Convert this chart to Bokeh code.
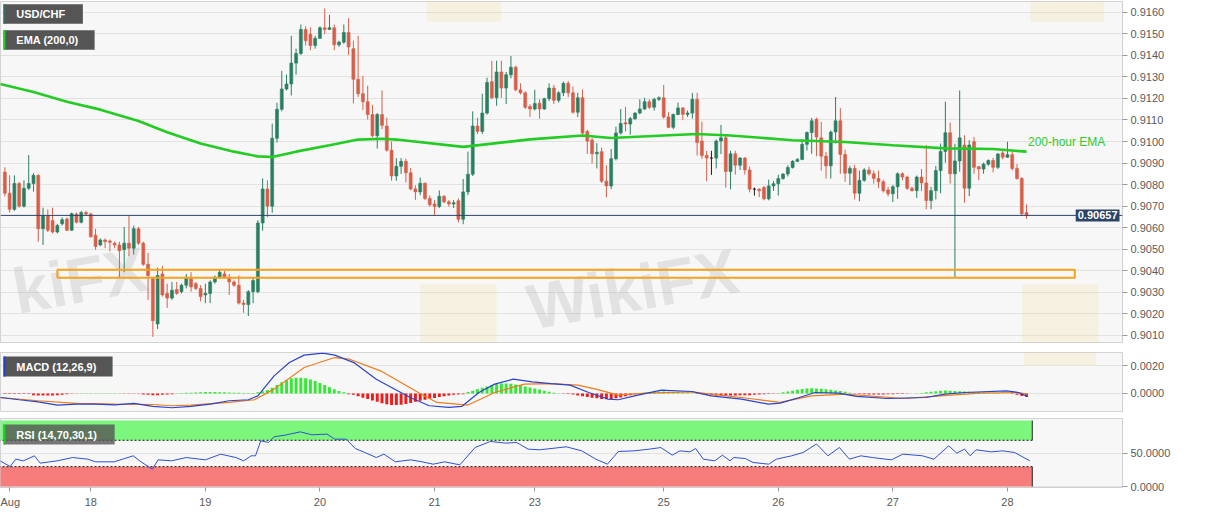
from bokeh.plotting import figure
from bokeh.layouts import column
from bokeh.models import (Range1d, FixedTicker, NumeralTickFormatter, Span, Label,
                          BoxAnnotation, ColumnDataSource)
from bokeh.embed import file_html
from bokeh.resources import INLINE

# ---------------- data (hourly USD/CHF candles) ----------------
opens = [0.90858, 0.9076, 0.90685, 0.90805, 0.9070, 0.90783, 0.90805, 0.90843, 0.90595, 0.90655,
         0.90633, 0.9058, 0.90618, 0.9064, 0.90588, 0.90663, 0.90625, 0.9067, 0.90663, 0.90565,
         0.9052, 0.90543, 0.90538, 0.90528, 0.9052, 0.90498, 0.90528, 0.90505, 0.90595, 0.90528,
         0.9043, 0.90363, 0.90153, 0.90385, 0.90295, 0.90273, 0.90313, 0.90303, 0.90333, 0.9037,
         0.9034, 0.90318, 0.90288, 0.90295, 0.90348, 0.9037, 0.90385, 0.9037, 0.90348, 0.90333,
         0.9025, 0.90243, 0.90303, 0.90303, 0.90622, 0.9078, 0.907, 0.91015, 0.9115, 0.91244,
         0.91267, 0.91364, 0.91409, 0.9152, 0.91498, 0.91446, 0.91479, 0.91528, 0.9152, 0.91528,
         0.91449, 0.91461, 0.91506, 0.91431, 0.91289, 0.91222, 0.91185, 0.91125, 0.91027, 0.91125,
         0.91072, 0.9096, 0.9084, 0.90885, 0.90908, 0.90855, 0.9078, 0.90766, 0.90806, 0.90736,
         0.9071, 0.90698, 0.90746, 0.9072, 0.9071, 0.90725, 0.90639, 0.90766, 0.90848, 0.91072,
         0.91047, 0.91132, 0.91278, 0.91203, 0.91323, 0.91248, 0.9131, 0.91345, 0.9124, 0.91226,
         0.91163, 0.91151, 0.91178, 0.91151, 0.91199, 0.91248, 0.91191, 0.91226, 0.9127, 0.91226,
         0.91136, 0.91203, 0.91047, 0.91007, 0.90943, 0.90953, 0.90816, 0.90794, 0.9092, 0.9104,
         0.91087, 0.91081, 0.91106, 0.91132, 0.91151, 0.91185, 0.91159, 0.91196, 0.91203, 0.91114,
         0.91066, 0.91126, 0.91156, 0.91126, 0.91132, 0.91196, 0.91002, 0.90935, 0.90923, 0.90923,
         0.91002, 0.91017, 0.90861, 0.90943, 0.9089, 0.90923, 0.90868, 0.90779, 0.90779, 0.90786,
         0.90734, 0.90794, 0.90804, 0.90828, 0.90849, 0.90879, 0.90908, 0.90917, 0.90987, 0.91042,
         0.91103, 0.91017, 0.90932, 0.90887, 0.91044, 0.91096, 0.9094, 0.90853, 0.90875, 0.9076,
         0.9082, 0.90868, 0.9085, 0.90828, 0.90813, 0.90775, 0.90757, 0.9079, 0.9085, 0.90835,
         0.90783, 0.90772, 0.90835, 0.90808, 0.90726, 0.90772, 0.90865, 0.90954, 0.91041, 0.9085,
         0.9091, 0.90984, 0.90783, 0.90999, 0.90883, 0.90872, 0.90895, 0.90912, 0.9088, 0.90947,
         0.90927, 0.90939, 0.90875, 0.90828, 0.9067]
highs = [0.9088, 0.90843, 0.90843, 0.90813, 0.9082, 0.90937, 0.90853, 0.90848, 0.90693, 0.90685,
         0.90693, 0.90618, 0.90648, 0.90648, 0.9067, 0.9067, 0.90678, 0.90678, 0.9067, 0.90595,
         0.9055, 0.9055, 0.90545, 0.90535, 0.90535, 0.90603, 0.90655, 0.9061, 0.90603, 0.90535,
         0.90483, 0.9037, 0.90415, 0.90423, 0.9034, 0.90348, 0.90348, 0.9034, 0.90385, 0.90393,
         0.90348, 0.90333, 0.9034, 0.90355, 0.90378, 0.90408, 0.904, 0.90385, 0.90355, 0.90378,
         0.90265, 0.9031, 0.9037, 0.90635, 0.90829, 0.9082, 0.91083, 0.9118, 0.91328, 0.91311,
         0.91491, 0.91431, 0.91543, 0.91535, 0.9153, 0.91491, 0.91535, 0.91618, 0.91588, 0.91543,
         0.91468, 0.91543, 0.91573, 0.91468, 0.91491, 0.91304, 0.91259, 0.9117, 0.91132, 0.91237,
         0.9111, 0.91, 0.90923, 0.90923, 0.9092, 0.90878, 0.90796, 0.90833, 0.9081, 0.9075,
         0.90728, 0.90773, 0.9075, 0.90728, 0.90728, 0.90736, 0.90826, 0.90953, 0.9114, 0.9111,
         0.91222, 0.91296, 0.91375, 0.91375, 0.91375, 0.91323, 0.91397, 0.91352, 0.9127, 0.91233,
         0.91173, 0.9124, 0.91196, 0.91203, 0.9127, 0.91263, 0.91233, 0.91278, 0.91281, 0.91255,
         0.91226, 0.91241, 0.91054, 0.91017, 0.90992, 0.90972, 0.9089, 0.90965, 0.91069, 0.91151,
         0.91161, 0.91114, 0.91136, 0.91196, 0.91203, 0.91196, 0.91203, 0.9121, 0.91263, 0.91136,
         0.91129, 0.91181, 0.91159, 0.91144, 0.91226, 0.91226, 0.91092, 0.90957, 0.90957, 0.9101,
         0.91077, 0.91032, 0.90957, 0.90957, 0.90928, 0.90928, 0.90883, 0.90786, 0.90783, 0.90794,
         0.90823, 0.90816, 0.90846, 0.90853, 0.9089, 0.90913, 0.90923, 0.9101, 0.91047, 0.9111,
         0.91111, 0.91091, 0.90951, 0.91051, 0.91207, 0.91155, 0.90962, 0.90887, 0.90892, 0.90865,
         0.90877, 0.90883, 0.90865, 0.90865, 0.90823, 0.9079, 0.90798, 0.90857, 0.90857, 0.90842,
         0.9079, 0.90842, 0.90872, 0.90984, 0.9079, 0.90887, 0.90991, 0.91185, 0.91088, 0.9099,
         0.91237, 0.91029, 0.91006, 0.91021, 0.90887, 0.90902, 0.90917, 0.90924, 0.90947, 0.90957,
         0.90999, 0.90954, 0.90895, 0.90835, 0.90708]
lows = [0.90745, 0.9067, 0.90678, 0.90693, 0.90693, 0.90775, 0.90768, 0.90535, 0.9052, 0.9058,
        0.90573, 0.90573, 0.9061, 0.90585, 0.90585, 0.9062, 0.9062, 0.90655, 0.90553, 0.90498,
        0.90513, 0.90505, 0.9049, 0.90505, 0.9037, 0.90393, 0.90468, 0.90475, 0.9052, 0.90423,
        0.90265, 0.90093, 0.9013, 0.9028, 0.90228, 0.90265, 0.90288, 0.90295, 0.90318, 0.90303,
        0.9031, 0.90258, 0.9025, 0.9025, 0.9034, 0.90363, 0.90363, 0.90288, 0.90325, 0.90243,
        0.90205, 0.9019, 0.9025, 0.90295, 0.90586, 0.90648, 0.90669, 0.90995, 0.9114, 0.91237,
        0.91214, 0.91311, 0.91401, 0.91446, 0.91424, 0.91431, 0.91476, 0.91498, 0.91518, 0.91424,
        0.91439, 0.91454, 0.91401, 0.91177, 0.91207, 0.91147, 0.91102, 0.9102, 0.90967, 0.91057,
        0.90953, 0.90818, 0.90818, 0.9085, 0.9081, 0.90773, 0.90729, 0.90751, 0.90728, 0.90698,
        0.90657, 0.90691, 0.90713, 0.90698, 0.90691, 0.90624, 0.90616, 0.90751, 0.9084, 0.91035,
        0.91035, 0.91125, 0.91196, 0.91166, 0.91203, 0.91174, 0.91293, 0.91233, 0.91218, 0.91151,
        0.91114, 0.91144, 0.91106, 0.91147, 0.91188, 0.91174, 0.91181, 0.91211, 0.91206, 0.91129,
        0.91114, 0.91032, 0.90943, 0.90898, 0.90875, 0.90808, 0.90741, 0.90779, 0.90912, 0.91032,
        0.91047, 0.91032, 0.91099, 0.91126, 0.91147, 0.91151, 0.91144, 0.91188, 0.91106, 0.91062,
        0.91057, 0.91122, 0.91099, 0.91114, 0.91107, 0.90935, 0.9092, 0.90816, 0.90845, 0.90875,
        0.90942, 0.90786, 0.90778, 0.90846, 0.90868, 0.90846, 0.90764, 0.90749, 0.90742, 0.90727,
        0.90727, 0.90771, 0.90749, 0.90823, 0.90838, 0.90875, 0.90905, 0.90913, 0.90958, 0.90943,
        0.90932, 0.90865, 0.90828, 0.90828, 0.90991, 0.9085, 0.90813, 0.90798, 0.90731, 0.90723,
        0.90813, 0.90842, 0.90805, 0.90783, 0.90763, 0.90745, 0.90719, 0.90734, 0.9082, 0.90775,
        0.90768, 0.90738, 0.9077, 0.90686, 0.90686, 0.90731, 0.9076, 0.90902, 0.90805, 0.90366,
        0.9086, 0.90716, 0.90746, 0.9085, 0.9082, 0.9085, 0.90887, 0.90857, 0.90872, 0.90917,
        0.90924, 0.90865, 0.90823, 0.90656, 0.90641]
closes = [0.9076, 0.90685, 0.90805, 0.9070, 0.90783, 0.90805, 0.90843, 0.90595, 0.90655, 0.90588,
          0.9058, 0.9061, 0.90637, 0.90588, 0.90665, 0.90625, 0.9067, 0.90663, 0.90558, 0.90513,
          0.90543, 0.90535, 0.90532, 0.9052, 0.90493, 0.90528, 0.90505, 0.90595, 0.90528, 0.9043,
          0.90378, 0.90168, 0.90378, 0.90288, 0.90273, 0.9031, 0.90295, 0.90333, 0.9037, 0.90325,
          0.90318, 0.9028, 0.90295, 0.90348, 0.9037, 0.90393, 0.9037, 0.90348, 0.90333, 0.9025,
          0.90243, 0.90303, 0.90355, 0.90622, 0.9078, 0.907, 0.91015, 0.9115, 0.91244, 0.91267,
          0.91364, 0.91409, 0.9152, 0.91468, 0.91446, 0.91479, 0.91528, 0.9152, 0.91528, 0.91449,
          0.91461, 0.91506, 0.91439, 0.91289, 0.91222, 0.91185, 0.91125, 0.91027, 0.91125, 0.91075,
          0.9096, 0.9084, 0.90885, 0.90908, 0.90855, 0.9078, 0.90766, 0.90806, 0.90736, 0.90706,
          0.90698, 0.90746, 0.9072, 0.9071, 0.90716, 0.90639, 0.90766, 0.90848, 0.91072, 0.91047,
          0.91132, 0.91274, 0.91203, 0.91323, 0.91248, 0.9131, 0.91345, 0.9124, 0.91226, 0.91159,
          0.91151, 0.91176, 0.91151, 0.91199, 0.91248, 0.91191, 0.91226, 0.9127, 0.91226, 0.91136,
          0.91203, 0.91039, 0.91002, 0.90943, 0.9095, 0.90816, 0.90794, 0.9092, 0.9104, 0.91084,
          0.91081, 0.91106, 0.91132, 0.91151, 0.91185, 0.91159, 0.91196, 0.91203, 0.91114, 0.91066,
          0.91126, 0.91156, 0.91126, 0.91132, 0.91196, 0.90995, 0.90935, 0.90923, 0.90923, 0.91002,
          0.91017, 0.90861, 0.90943, 0.9089, 0.90923, 0.90868, 0.90779, 0.90779, 0.90771, 0.90734,
          0.90794, 0.90804, 0.90828, 0.90849, 0.90879, 0.90908, 0.90917, 0.90987, 0.91042, 0.91096,
          0.91021, 0.90932, 0.90887, 0.91044, 0.91096, 0.9094, 0.90853, 0.90875, 0.9076, 0.9082,
          0.90868, 0.9085, 0.90828, 0.90813, 0.90771, 0.90757, 0.9079, 0.9085, 0.90835, 0.90783,
          0.90772, 0.90835, 0.90808, 0.90726, 0.90772, 0.90865, 0.90954, 0.91041, 0.9085, 0.9091,
          0.91017, 0.90783, 0.90984, 0.9088, 0.90872, 0.90895, 0.90912, 0.9088, 0.90942, 0.90927,
          0.90939, 0.90875, 0.90828, 0.90664, 0.90657]

# 200-hour EMA (candle index, value)
ema_idx = [-1, 6, 13, 20, 28, 34, 41, 48, 53, 56, 61, 68, 74, 79, 82, 96, 110, 121, 127,
           138, 145, 152, 165, 176, 186, 197, 207, 214]
ema_val = [0.91267, 0.9123, 0.91185, 0.91148, 0.91095, 0.91043, 0.90991, 0.90953, 0.90931,
           0.90928, 0.90953, 0.90983, 0.91009, 0.91013, 0.91009, 0.90975, 0.9101, 0.91028,
           0.91016, 0.91028, 0.91035, 0.91028, 0.91006, 0.90998, 0.90983, 0.90968, 0.90965, 0.90953]

# support zone
zone_low, zone_high = 0.90368, 0.90405
zone_start, zone_end = 11.0, 224.1

# MACD (12,26,9)
macd_idx = [-1, 3, 7, 11, 15, 19, 23, 27, 31, 35, 39, 43, 47, 51, 53, 56.4, 59.6, 62.7, 66.6,
            69.1, 73.1, 77.8, 81, 84.9, 88.9, 93, 95.7, 99.3, 102.6, 106.5, 110.5, 114.4, 118.4,
            122.3, 126.3, 128.5, 131.9, 137.5, 143.9, 147.9, 154.3, 159.9, 162.4, 166.4, 169.7,
            174.5, 178.4, 184.9, 192.9, 196.9, 201.1, 209.8, 212.3, 214.2]
macd_val = [-0.00029, -0.00045, -0.0006, -0.00083, -0.00076, -0.00076, -0.00081, -0.00071,
            -0.00093, -0.00102, -0.00093, -0.00076, -0.00052, -0.00045, -0.00017, 0.00126,
            0.00221, 0.00274, 0.00288, 0.00274, 0.00221, 0.00102, 0.00043, -0.00029, -0.00088,
            -0.001, -0.00093, 0.00007, 0.00067, 0.00102, 0.00083, 0.00071, 0.0006, 0.00007,
            -0.0004, -0.00045, -0.00017, 0.00024, 0.00014, -0.00017, -0.0004, -0.00076, -0.00069,
            -0.00029, 0.00007, 0.00002, -0.00021, -0.00036, -0.00029, -0.00005, 0.00007, 0.00019,
            0.00007, -0.00021]
signal_idx = [-1, 7, 15, 23, 31, 35, 39, 47, 52.3, 56.4, 62.7, 69.1, 72.2, 78.7, 86.6, 90.5, 97,
              102.6, 108.8, 114.4, 120, 123.8, 128.5, 134.2, 143.9, 147.9, 156, 162.4, 168.9,
              176.1, 188.2, 196, 204.2, 212.3, 214.2]
signal_val = [-0.00029, -0.00052, -0.00071, -0.00076, -0.00079, -0.00088, -0.00083, -0.00064,
              -0.00045, 0.00031, 0.00186, 0.00257, 0.00245, 0.00162, 0.00007, -0.00064, -0.00083,
              0.00007, 0.00067, 0.00071, 0.0006, 0.00031, -0.00012, 0.00002, 0.00012, -0.00005,
              -0.00036, -0.00064, -0.00017, -0.00005, -0.00036, -0.00017, 0.00002, 0.00007, -0.00005]
hist = ([-0.00004] * 4 + [-0.00003] * 2 +
        [-0.00012, -0.00014, -0.00015, -0.00015, -0.00014, -0.00012, -0.0001] +
        [-0.00005, -0.00002, 0.00002] + [0.00002] * 9 + [-0.00002] * 4 +
        [-0.00008, -0.0001, -0.00012, -0.00012, -0.0001, -0.00008, -0.00005] +
        [0.00002, 0.00003, 0.00005, 0.00006, 0.00007, 0.00008, 0.0001, 0.0001, 0.0001, 0.00009,
         0.00008, 0.00007, 0.00006, 0.00005, 0.00004, 0.00003, 0.00003] +
        [0.00008, 0.00015, 0.00025, 0.0004, 0.0006, 0.0008, 0.00095, 0.00108, 0.00112, 0.00112,
         0.00108, 0.001, 0.0009, 0.00075, 0.0006, 0.00045, 0.0003, 0.00018, 0.00008] +
        [-0.00005, -0.0001, -0.0002, -0.0003, -0.0004, -0.0005, -0.0006, -0.0007, -0.00078,
         -0.00082, -0.00083, -0.0008, -0.00075, -0.00068, -0.0006, -0.00052, -0.00045, -0.00038,
         -0.00032, -0.00025, -0.0002, -0.00015, -0.0001, -0.00008, -0.00005] +
        [0.0001, 0.0002, 0.0003, 0.0004, 0.0005, 0.0006, 0.00068, 0.00072, 0.00072, 0.0007,
         0.00065, 0.00058, 0.0005, 0.00042, 0.00035, 0.00028, 0.0002, 0.00012, 0.00006] +
        [0.00002, -0.00002, -0.00004] +
        [-0.00008, -0.00015, -0.0002, -0.00025, -0.0003, -0.00035] +
        [-0.0004, -0.00042, -0.0004, -0.00035, -0.00028, -0.0002, -0.00012, -0.00005] +
        [0.00003, 0.00006, 0.0001, 0.00012, 0.00014, 0.00014, 0.00012, 0.0001, 0.00008, 0.00006,
         0.00004, 0.00002] +
        [-0.00003, -0.00006, -0.0001, -0.00013, -0.00015, -0.00015, -0.00016, -0.00015, -0.00014,
         -0.00013, -0.00012, -0.00012, -0.0001, -0.00008, -0.00006, -0.00004, -0.00002] +
        [0.00003, 0.00008, 0.00014, 0.0002, 0.00027, 0.00032, 0.00035, 0.00037, 0.00036, 0.00033,
         0.0003, 0.00027, 0.00022, 0.00017, 0.00012, 0.00006] +
        [-0.00002, -0.00004, -0.00006, -0.00008, -0.00008, -0.00008, -0.00007, -0.00006, -0.00005,
         -0.00004, -0.00003, -0.00002, -0.00001, 0.00001] +
        [0.00004, 0.00008, 0.00012, 0.00016, 0.0002, 0.00022, 0.0002, 0.00018, 0.00016, 0.00014,
         0.00012, 0.0001, 0.00008, 0.00006, 0.00004, 0.00003, 0.00003, 0.00002, 0.00001] +
        [-0.00004, -0.0001, -0.00018, -0.00025])

# RSI (14,70,30,1)
rsi_idx = [-1, 1.1, 2.3, 3.9, 6.2, 7.4, 11, 14.2, 17.4, 19, 22.9, 26.9, 28.5, 30.9, 32.1, 34.9,
           38, 42, 45.2, 48.4, 50, 51.6, 52.5, 53.6, 55.2, 56.4, 58.7, 61.9, 64.3, 67.5, 69.1,
           71.5, 73.4, 75.4, 77.8, 79.4, 81.8, 85, 87.4, 89.7, 92.1, 95.3, 98.5, 101.7, 104.9,
           107.2, 109.6, 112, 117.6, 120.8, 123.8, 126.2, 128.5, 131.8, 135, 137.4, 139.8, 141.4,
           143.5, 144.7, 146.3, 148.7, 150.3, 151.9, 152.7, 155.1, 156.7, 160, 161.6, 164.8,
           167.2, 170, 172.4, 174.8, 176.9, 179.3, 181.7, 185.7, 188.1, 192.2, 194.6, 197.7,
           199.4, 201, 202.2, 203.4, 206.6, 209, 211.5, 214.7]
rsi_val = [38.9, 30.3, 41.4, 38.9, 46.5, 35.4, 38.9, 43.9, 41.4, 37.4, 37.4, 46.5, 37.4, 26.3,
           40.4, 38.9, 43.9, 40.4, 49, 43.9, 38.9, 46.5, 46.5, 69.2, 66.7, 75.3, 77.8, 82.8, 78.3,
           79.3, 71.7, 71.7, 57.6, 51.5, 43.9, 49, 37.4, 40.4, 37.4, 33.8, 37.4, 32.8, 59.1, 68.2,
           65.7, 66.7, 56.6, 55.6, 60.1, 54.1, 41.4, 33.8, 53, 54, 56.6, 59, 47.5, 54, 52.5, 57.6,
           41.4, 38.9, 47.5, 38.9, 43.9, 42.4, 36.4, 33.8, 41.4, 46.5, 51.5, 64.4, 46.5, 59.1,
           41.4, 46.5, 43.9, 40.4, 49, 46.5, 41.4, 61.6, 50.5, 56.6, 46.5, 55.6, 52.5, 54, 51.5, 38.9]
rsi_upper, rsi_lower = 70, 30

day_ticks = [1, 18, 42, 66, 90, 111, 138, 162, 186, 210]
day_labels = ["Aug", "18", "19", "20", "21", "23", "25", "26", "27", "28"]

assert len(opens) == len(highs) == len(lows) == len(closes) == len(hist)

# ---------------- styling helpers ----------------
FONT = "Liberation Sans"
W = 1191
RB = 69
GREEN_C = "#2a7f62"
RED_C = "#d65f4a"
n = len(closes)
idx = list(range(n))
xr = Range1d(-0.91, 234.1)


def make_fig(height, yr, top, bottom, xaxis):
    p = figure(width=W, height=height, x_range=xr, y_range=yr, y_axis_location="right",
               x_axis_location="below" if xaxis else None, toolbar_location=None,
               output_backend="svg", min_border_left=0, min_border_right=RB,
               min_border_top=top, min_border_bottom=bottom)
    p.background_fill_color = "#f7f7f7"
    p.border_fill_color = "#ffffff"
    p.outline_line_color = "#d3d3d3"
    p.xgrid.visible = False
    p.ygrid.grid_line_color = "#e2e2e2"
    ax = p.yaxis[0]
    ax.axis_line_color = "#cfcfcf"
    ax.major_tick_line_color = "#9a9a9a"
    ax.major_tick_out = 5
    ax.major_tick_in = 0
    ax.minor_tick_line_color = None
    ax.major_label_text_font = FONT
    ax.major_label_text_font_size = "11px"
    ax.major_label_text_color = "#5a5a5a"
    ax.major_label_standoff = 3
    ax.formatter = NumeralTickFormatter(format="0.0000")
    return p


def tag(p, x0, x1, y0, y1, text, accent, tx, alpha=1.0):
    p.add_layout(BoxAnnotation(left=x0, right=x1, bottom=y0, top=y1, fill_color="#555555",
                               fill_alpha=alpha, line_color=None))
    p.add_layout(BoxAnnotation(left=x0, right=x0 + 0.42, bottom=y0, top=y1, fill_color=accent,
                               fill_alpha=1, line_color=None))
    p.add_layout(Label(x=tx, y=(y0 + y1) / 2, text=text, text_font=FONT, text_font_size="11px",
                       text_font_style="bold", text_color="white", text_baseline="middle",
                       text_align="left"))


# ---------------- main price panel ----------------
p1 = make_fig(352, Range1d(0.90067, 0.91650), 1, 10, False)
p1.yaxis[0].ticker = FixedTicker(ticks=[0.901 + 0.001 * k for k in range(16)])

# watermark (the part visible at the left edge, and the full one in the middle)
for wx, wy, wtxt, walign in [(1.8, 0.90300, "kiFX", "left"), (131.5, 0.90315, "WikiFX", "center")]:
    p1.add_layout(Label(x=wx, y=wy, text=wtxt, text_font=FONT, text_font_size="64px",
                        text_font_style="bold", text_color="#9a9a9a", text_alpha=0.22,
                        text_align=walign, text_baseline="middle", angle=0.18, level="underlay"))
for l0, r0, b0, t0 in [(87.0, 103.0, 0.90067, 0.90337), (213.1, 229.1, 0.90067, 0.90337),
                       (88.4, 104.0, 0.91556, 0.9170), (214.8, 230.2, 0.91556, 0.9170)]:
    p1.add_layout(BoxAnnotation(left=l0, right=r0, bottom=b0, top=t0, fill_color="#f3dc8c",
                                fill_alpha=0.22, line_color=None, level="underlay"))

colors = [GREEN_C if c > o else (RED_C if c < o else "#1a1a1a") for o, c in zip(opens, closes)]
src = ColumnDataSource(dict(x=idx, h=highs, l=lows,
                            top=[max(o, c) for o, c in zip(opens, closes)],
                            bottom=[min(o, c) for o, c in zip(opens, closes)],
                            color=colors))
p1.segment(x0="x", y0="h", x1="x", y1="l", line_color="color", line_width=1, source=src)
p1.vbar(x="x", width=0.62, top="top", bottom="bottom", fill_color="color", line_color="color",
        line_width=0.6, source=src)

p1.line(ema_idx, ema_val, line_color="#22cc22", line_width=2.6)
p1.quad(left=[zone_start], right=[zone_end], bottom=[zone_low], top=[zone_high],
        fill_alpha=0, line_color="#f5a21d", line_width=2)
p1.add_layout(Span(location=closes[-1], dimension="width", line_color="#2b4468", line_width=1))
p1.add_layout(Label(x=214.3, y=0.90996, text="200-hour EMA", text_font=FONT,
                    text_font_size="12px", text_color="#2ecc2e", text_baseline="middle",
                    text_align="left"))
# last-price tag (kept inside the frame, at its right edge)
p1.add_layout(Label(x=234.1, y=closes[-1], x_offset=-3, text="%.5f" % closes[-1], text_font=FONT,
                    text_font_size="11px", text_font_style="bold", text_color="white",
                    text_baseline="middle", text_align="right", background_fill_color="#2b4468",
                    padding=2))

tag(p1, -0.29, 16.34, 0.91547, 0.91637, "USD/CHF", "#3b6b68", 2.4)
tag(p1, -0.29, 18.8, 0.91426, 0.91516, "EMA (200,0)", "#22cc22", 2.4)

# ---------------- MACD panel ----------------
p2 = make_fig(66, Range1d(-0.00129, 0.00293), 0, 7, False)
p2.yaxis[0].ticker = FixedTicker(ticks=[0.0, 0.002])
p2.add_layout(BoxAnnotation(left=213.5, right=228.5, bottom=0.0020, top=0.0032,
                            fill_color="#f3dc8c", fill_alpha=0.22, line_color=None,
                            level="underlay"))
hcol = ["#36e836" if v >= 0 else "#ee1c1c" for v in hist]
p2.vbar(x=idx, top=hist, bottom=0, width=0.62, fill_color=hcol, line_color=None)
p2.line(signal_idx, signal_val, line_color="#f07a1e", line_width=1.2)
p2.line(macd_idx, macd_val, line_color="#2b45c8", line_width=1.2)
tag(p2, -0.29, 22.57, 0.00121, 0.00264, "MACD (12,26,9)", "#2244cc", 2.4)

# ---------------- RSI panel ----------------
p3 = make_fig(92, Range1d(-1.5, 103), 0, 23, True)
p3.yaxis[0].ticker = FixedTicker(ticks=[0, 50])
band_end = 215.2
p3.quad(left=[-3], right=[band_end], bottom=[rsi_upper], top=[100], fill_color="#7cf67c",
        line_color=None)
p3.quad(left=[-3], right=[band_end], bottom=[0], top=[rsi_lower], fill_color="#f77c7c",
        line_color=None)
p3.segment(x0=[-3, -3], x1=[band_end, band_end], y0=[rsi_upper, rsi_lower],
           y1=[rsi_upper, rsi_lower], line_color="#111111", line_width=1, line_dash="2 2")
p3.segment(x0=[band_end, band_end], x1=[band_end, band_end], y0=[rsi_upper, 0],
           y1=[100, rsi_lower], line_color="#222222", line_width=1)
p3.line(rsi_idx, rsi_val, line_color="#3050d0", line_width=1)
tag(p3, -0.29, 23.0, 63.6, 93.9, "RSI (14,70,30,1)", "#22cc22", 2.4, alpha=0.8)

xa = p3.xaxis[0]
xa.ticker = FixedTicker(ticks=day_ticks)
xa.major_label_overrides = {t: s for t, s in zip(day_ticks, day_labels)}
xa.axis_line_color = "#cfcfcf"
xa.major_tick_line_color = "#9a9a9a"
xa.major_tick_out = 4
xa.major_tick_in = 0
xa.minor_tick_line_color = None
xa.major_label_text_font = FONT
xa.major_label_text_font_size = "11px"
xa.major_label_text_color = "#5a5a5a"
xa.major_label_standoff = 4

layout = column(p1, p2, p3, spacing=0)
open("out.html", "w").write(file_html(layout, INLINE))
